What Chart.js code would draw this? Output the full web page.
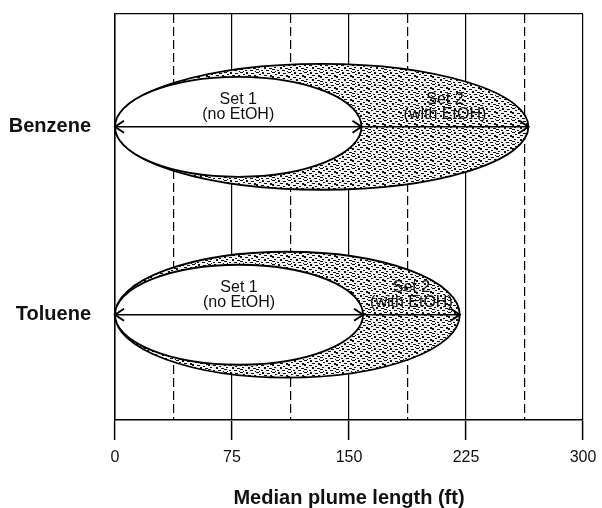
<!DOCTYPE html>
<html>
<head>
<meta charset="utf-8">
<script src="https://cdn.jsdelivr.net/npm/chart.js@4"></script>
<style>
    html, body { margin: 0; padding: 0; background: #fff; }
    #wrap { width: 602px; height: 508px; position: relative; }
</style>
</head>
<body>
<div id="wrap"><canvas id="plumeChart"></canvas></div>
<script>
// Median plume length chart

// Data
const chemicals = ['Benzene', 'Toluene'];
const set1Length = [158, 159];   // Set 1 (no EtOH), ft
const set2Length = [265, 221];   // Set 2 (with EtOH), ft
const xTicks = [0, 75, 150, 225, 300];
const set1Label = ['Set 1', '(no EtOH)'];
const set2Label = ['Set 2', '(with EtOH)'];

const Y_MIN = -0.56;
const Y_MAX = 1.6;
const FONT = '"Liberation Sans", Arial, Helvetica, sans-serif';

// Row index on the y scale (Benzene on top)
function rowOf(i) {
    return chemicals.length - 1 - i;
}

// Stipple pattern for the Set 2 plume (black specks on white)
function makeStipple(ctx) {
    const pat = document.createElement('canvas');
    pat.width = 16;
    pat.height = 12;
    const p = pat.getContext('2d');
    p.fillStyle = '#f2f2f2';
    p.fillRect(0, 0, 16, 12);
    p.fillStyle = '#111';
    [[0,0,3,1],[6,0,2,2],[11,1,3,1],[3,2,2,1],[8,3,3,1],[14,3,2,2],[0,4,2,2],
     [5,5,3,1],[11,6,2,1],[2,7,2,1],[8,7,2,2],[13,8,3,1],[0,9,3,1],[5,10,2,1],
     [10,10,3,1],[15,11,1,1],[3,11,1,1]]
        .forEach(([x, y, w, h]) => p.fillRect(x, y, w, h));
    return ctx.createPattern(pat, 'repeat');
}

// Plume ellipses, arrows and labels
const plumePlugin = {
    id: 'plumes',
    beforeDatasetsDraw(chart) {
        const { ctx, scales: { x, y } } = chart;
        const stipple = makeStipple(ctx);
        const ellipse = (len, row, half) => {
            const x0 = x.getPixelForValue(0);
            const x1 = x.getPixelForValue(len);
            const cy = y.getPixelForValue(row);
            const ry = cy - y.getPixelForValue(row + half);
            ctx.beginPath();
            ctx.ellipse((x0 + x1) / 2, cy, (x1 - x0) / 2, ry, 0, 0, Math.PI * 2);
        };
        ctx.save();
        ctx.strokeStyle = '#000';
        ctx.lineWidth = 1.8;
        chemicals.forEach((c, i) => {
            const row = rowOf(i);
            ellipse(set2Length[i], row, 0.335);
            ctx.fillStyle = stipple;
            ctx.fill();
            ctx.stroke();
            ellipse(set1Length[i], row, 0.266);
            ctx.fillStyle = '#fff';
            ctx.fill();
            ctx.stroke();
        });
        ctx.restore();
    },
    afterDatasetsDraw(chart) {
        const { ctx, scales: { x, y } } = chart;
        const head = (px, py, dir) => {
            ctx.beginPath();
            ctx.moveTo(px - dir * 9, py - 6);
            ctx.lineTo(px, py);
            ctx.lineTo(px - dir * 9, py + 6);
            ctx.stroke();
        };
        ctx.save();
        ctx.strokeStyle = '#000';
        ctx.lineWidth = 2;
        ctx.fillStyle = '#111';
        ctx.font = '16px ' + FONT;
        ctx.textAlign = 'center';
        ctx.textBaseline = 'middle';
        chemicals.forEach((c, i) => {
            const py = y.getPixelForValue(rowOf(i));
            head(x.getPixelForValue(0), py, -1);
            head(x.getPixelForValue(set1Length[i]), py, 1);
            head(x.getPixelForValue(set2Length[i]), py, 1);

            const cx1 = x.getPixelForValue(set1Length[i] / 2);
            const cx2 = x.getPixelForValue((set1Length[i] + set2Length[i]) / 2);
            ctx.fillText(set1Label[0], cx1, py - 27);
            ctx.fillText(set1Label[1], cx1, py - 12);
            ctx.fillText(set2Label[0], cx2, py - 27);
            ctx.fillText(set2Label[1], cx2, py - 12);
        });
        ctx.restore();
    }
};

// Initialize chart
const chartCtx = document.getElementById('plumeChart').getContext('2d');
const plumeChart = new Chart(chartCtx, {
    type: 'scatter',
    data: {
        datasets: chemicals.map((c, i) => ({
            label: c,
            data: [
                { x: 0, y: rowOf(i) },
                { x: set2Length[i], y: rowOf(i) }
            ],
            showLine: true,
            borderColor: '#000',
            borderWidth: 1.5,
            pointRadius: 0
        }))
    },
    options: {
        responsive: true,
        maintainAspectRatio: false,
        animation: false,
        layout: {
            padding: { left: 0, right: 19, top: 14, bottom: 0 }
        },
        plugins: {
            legend: { display: false },
            tooltip: { enabled: false }
        },
        scales: {
            x: {
                type: 'linear',
                min: xTicks[0],
                max: xTicks[xTicks.length - 1],
                afterFit: (scale) => {
                    scale.height = 88;
                    scale.paddingLeft = 0;
                    scale.paddingRight = 0;
                },
                ticks: {
                    stepSize: 37.5,
                    autoSkip: false,
                    maxRotation: 0,
                    padding: 8,
                    color: '#111',
                    font: { family: FONT, size: 16 },
                    callback: (v) => xTicks.includes(v) ? String(v) : ''
                },
                grid: {
                    color: '#000',
                    lineWidth: 1.2,
                    tickLength: 20,
                    tickWidth: 1.5,
                    tickColor: (ctx) => (ctx.tick && xTicks.includes(ctx.tick.value)) ? '#000' : 'rgba(0,0,0,0)'
                },
                border: {
                    display: true,
                    color: '#000',
                    width: 1.5,
                    dash: (ctx) => (ctx.tick && !xTicks.includes(ctx.tick.value)) ? [9, 4] : []
                },
                title: {
                    display: true,
                    text: 'Median plume length (ft)',
                    color: '#111',
                    font: { family: FONT, size: 20, weight: 'bold' },
                    padding: { top: 0, bottom: -2 }
                }
            },
            y: {
                type: 'linear',
                min: Y_MIN,
                max: Y_MAX,
                afterFit: (scale) => {
                    scale.width = 115;
                    scale.paddingTop = 0;
                    scale.paddingBottom = 0;
                },
                afterBuildTicks: (scale) => {
                    scale.ticks = [{ value: 0 }, { value: 1 }, { value: Y_MAX }];
                },
                ticks: {
                    padding: 24,
                    color: '#111',
                    font: (ctx) => (ctx.tick && ctx.tick.value === Y_MAX)
                        ? { family: FONT, size: 1 }
                        : { family: FONT, size: 20, weight: 'bold' },
                    callback: (v) => Number.isInteger(v) ? chemicals[rowOf(v)] : ''
                },
                grid: {
                    drawTicks: false,
                    lineWidth: 1.2,
                    color: (ctx) => (ctx.tick && ctx.tick.value === Y_MAX) ? '#000' : 'rgba(0,0,0,0)'
                },
                border: {
                    display: true,
                    color: '#000',
                    width: 1.5
                }
            }
        }
    },
    plugins: [plumePlugin]
});
</script>
</body>
</html>
